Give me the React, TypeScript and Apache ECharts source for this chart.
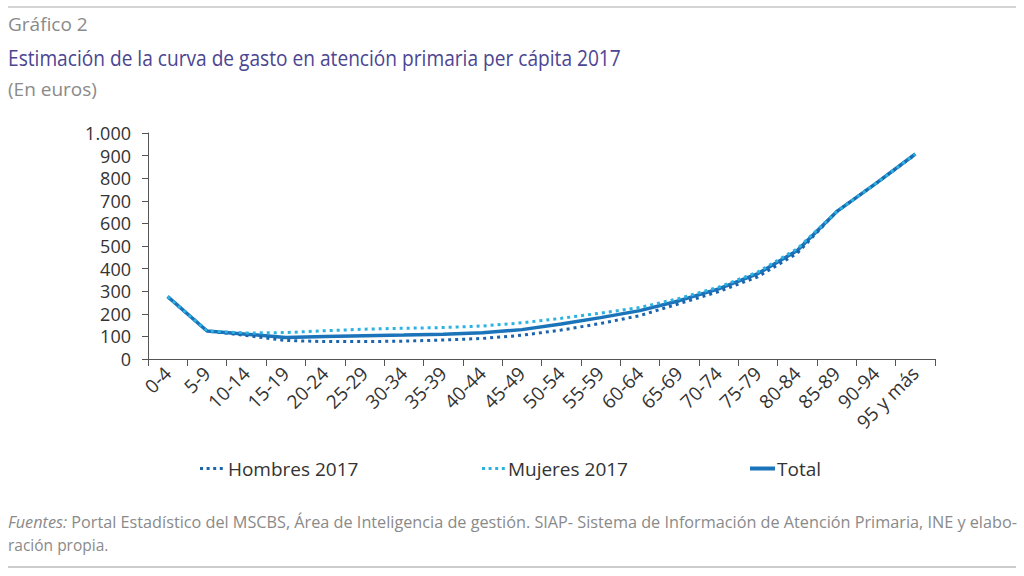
import React, { useEffect, useRef } from "react";
import * as echarts from "echarts";

const categories = ["0-4", "5-9", "10-14", "15-19", "20-24", "25-29", "30-34", "35-39", "40-44", "45-49", "50-54", "55-59", "60-64", "65-69", "70-74", "75-79", "80-84", "85-89", "90-94", "95 y más"];
const hombres = [276, 124, 104, 82, 77, 77, 79, 84, 91, 105, 128, 157, 192, 245, 298, 364, 468, 652, 777, 905];
const mujeres = [276, 124, 115, 117, 125, 132, 136, 139, 146, 160, 180, 203, 228, 268, 318, 385, 488, 652, 777, 907];
const total = [276, 124, 110, 95, 100, 103, 106, 110, 116, 130, 155, 183, 214, 258, 310, 378, 480, 652, 777, 907];
const yTicks = { min: 0, max: 1000, interval: 100 };

const DOTS = "path://M0,0h3v3h-3zM6.6,0h3v3h-3zM13.2,0h3v3h-3zM19.8,0h3v3h-3z";
const BAR = "path://M0,0h25v4h-25z";

export default function App() {
  const ref = useRef<HTMLDivElement>(null);
  useEffect(() => {
    const chart = echarts.init(ref.current!, undefined, { renderer: "svg" });
    const font = "'Open Sans', sans-serif";
    const legendText = { fontFamily: font, fontSize: 19, color: "#333" };
    chart.setOption({
      animation: false,
      backgroundColor: "#ffffff",
      grid: { left: 148, right: 89, top: 133, bottom: 217, containLabel: false },
      xAxis: {
        type: "category",
        data: categories,
        boundaryGap: true,
        axisLine: { lineStyle: { color: "#555", width: 1 } },
        axisTick: { show: true, length: 7, alignWithLabel: false, lineStyle: { color: "#555" } },
        axisLabel: { rotate: 45, interval: 0, fontFamily: font, fontSize: 19, lineHeight: 20, color: "#333", margin: 11 },
      },
      yAxis: {
        type: "value",
        min: yTicks.min,
        max: yTicks.max,
        interval: yTicks.interval,
        axisLine: { show: true, lineStyle: { color: "#555", width: 1 } },
        axisTick: { show: true, length: 6, lineStyle: { color: "#555" } },
        splitLine: { show: false },
        axisLabel: {
          fontFamily: font,
          fontSize: 18,
          lineHeight: 20,
          color: "#333",
          margin: 17,
          formatter: (v: number) => v.toLocaleString("de-DE"),
        },
      },
      legend: [
        { data: ["Hombres 2017"], left: 195, top: 454, icon: DOTS, itemWidth: 23, itemHeight: 3, itemGap: 0, textStyle: { ...legendText, padding: [0, 0, 0, 0] } },
        { data: ["Mujeres 2017"], left: 477, top: 454, icon: DOTS, itemWidth: 23, itemHeight: 3, itemGap: 0, textStyle: { ...legendText, padding: [0, 0, 0, -2] } },
        { data: ["Total"], left: 745, top: 454, icon: BAR, itemWidth: 25, itemHeight: 4, itemGap: 0, textStyle: { ...legendText, padding: [0, 0, 0, -3] } },
      ],
      series: [
        {
          name: "Hombres 2017",
          type: "line",
          data: hombres,
          symbol: "none",
          z: 3,
          lineStyle: { color: "#1c64ac", width: 3, type: [3, 4] },
          itemStyle: { color: "#1c64ac" },
        },
        {
          name: "Mujeres 2017",
          type: "line",
          data: mujeres,
          symbol: "none",
          z: 3,
          lineStyle: { color: "#2cb2e0", width: 3, type: [3, 4] },
          itemStyle: { color: "#2cb2e0" },
        },
        {
          name: "Total",
          type: "line",
          data: total,
          symbol: "none",
          z: 2,
          lineStyle: { color: "#1b73ba", width: 3.5 },
          itemStyle: { color: "#1b73ba" },
        },
      ],
      graphic: [
        { type: "line", shape: { x1: 8, y1: 7, x2: 1016, y2: 7 }, style: { stroke: "#aaa", lineWidth: 1 } },
        { type: "text", left: 8, top: 14, style: { text: "Gráfico 2", fontFamily: font, fontSize: 19, fill: "#8a8a8a" } },
        { type: "text", x: 8, y: 46, scaleX: 0.87, style: { text: "Estimación de la curva de gasto en atención primaria per cápita 2017", fontFamily: font, fontSize: 22, fill: "#4c4592" } },
        { type: "text", left: 8, top: 79, style: { text: "(En euros)", fontFamily: font, fontSize: 19, fill: "#8a8a8a" } },
        {
          type: "text",
          x: 8,
          y: 514,
          scaleX: 1.048,
          style: {
            rich: {
              i: { fontFamily: font, fontStyle: "italic", fontSize: 15.5, fill: "#8a8a8a" },
              n: { fontFamily: font, fontSize: 15.5, fill: "#8a8a8a" },
            },
            text: "{i|Fuentes:}{n| Portal Estadístico del MSCBS, Área de Inteligencia de gestión. SIAP- Sistema de Información de Atención Primaria, INE y elabo-}",
          },
        },
        { type: "text", left: 8, top: 537, style: { text: "ración propia.", fontFamily: font, fontSize: 15.5, fill: "#8a8a8a" } },
        { type: "line", shape: { x1: 8, y1: 567, x2: 1016, y2: 567 }, style: { stroke: "#ccc", lineWidth: 2 } },
      ],
    });
    return () => chart.dispose();
  }, []);
  return <div ref={ref} style={{ width: 1024, height: 576, position: "fixed", left: 0, top: 0 }} />;
}
